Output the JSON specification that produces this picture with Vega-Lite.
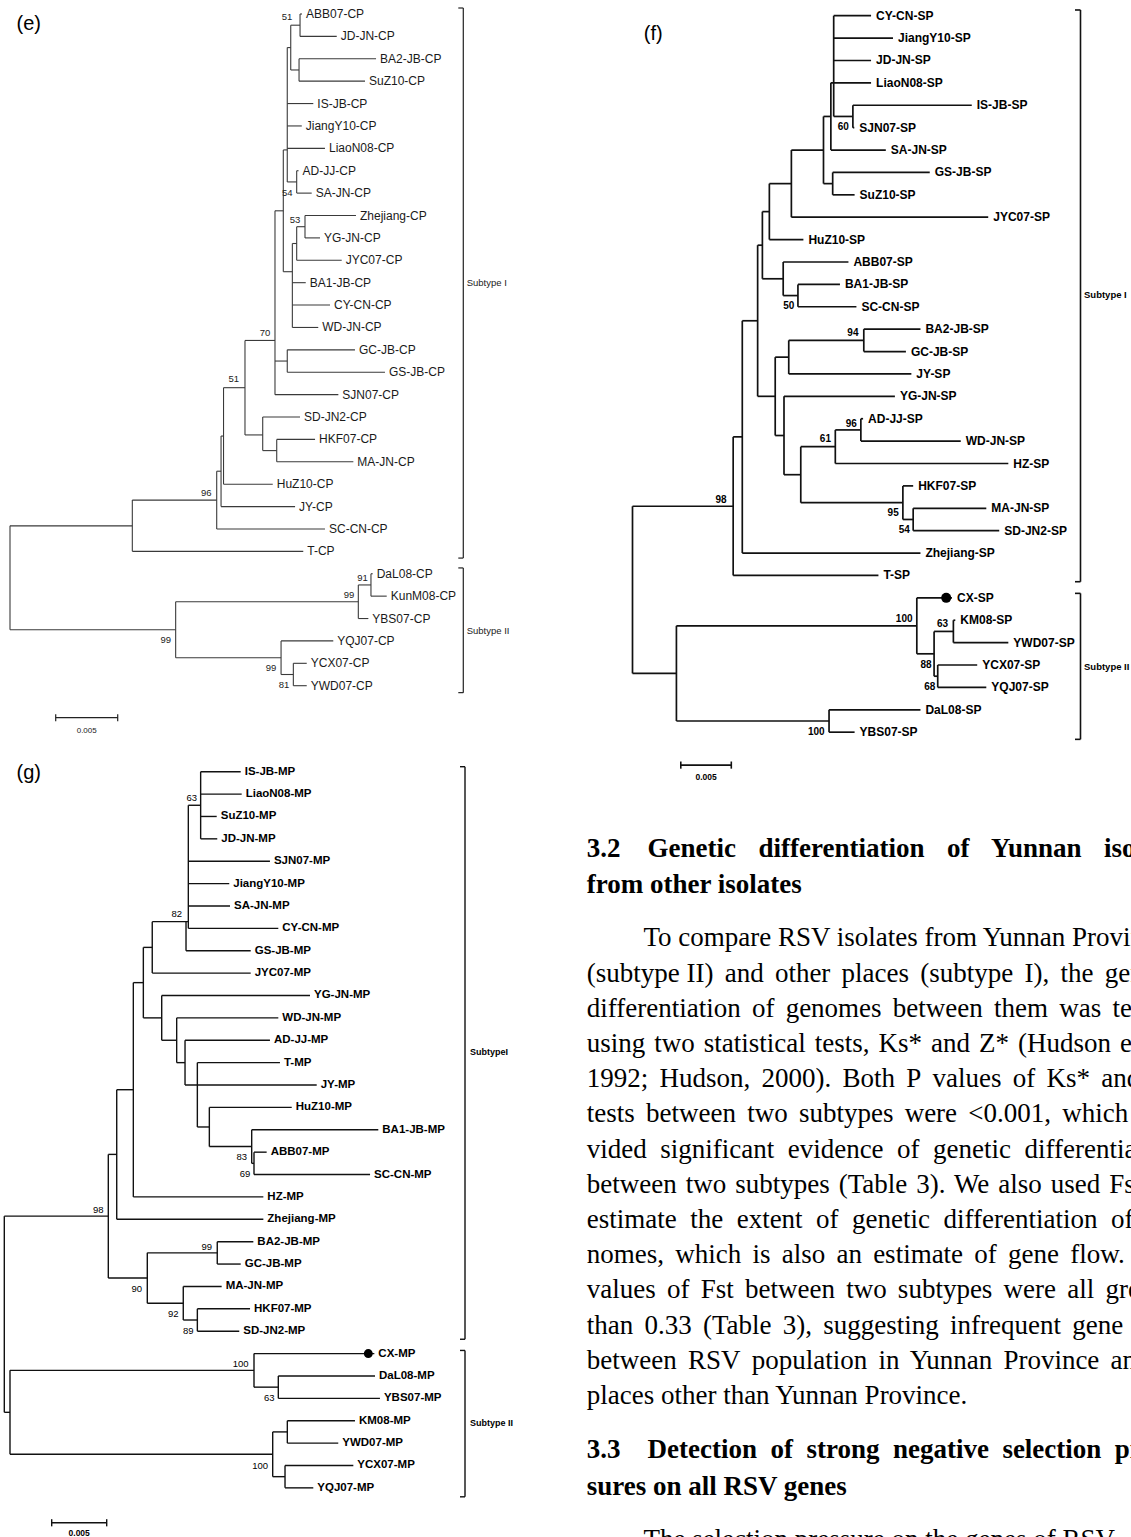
{
"$schema": "https://vega.github.io/schema/vega-lite/v6.json",
"padding": 0,
"background": "white",
"config": {"view": {"stroke": null}, "text": {"font": "Liberation Sans"}},
"datasets": {
"eSeg": [
{"x":0.02339,"xs":0.02339,"y":0,"ys":1},{"x":0.02331,"xs":0.02331,"y":2,"ys":3},
{"x":0.02264,"xs":0.02264,"y":0.5,"ys":2.5},{"x":0.02264,"xs":0.02339,"y":0.5,"ys":0.5},{"x":0.02264,"xs":0.02331,"y":2.5,"ys":2.5},
{"x":0.02236,"xs":0.02236,"y":1.5,"ys":7.5},{"x":0.02236,"xs":0.02264,"y":1.5,"ys":1.5},
{"x":0.02312,"xs":0.02312,"y":7,"ys":8},{"x":0.02236,"xs":0.02312,"y":7.5,"ys":7.5},
{"x":0.02204,"xs":0.02204,"y":6.07,"ys":11.51},{"x":0.02204,"xs":0.02236,"y":6.07,"ys":6.07},{"x":0.02204,"xs":0.02277,"y":11.51,"ys":11.51},
{"x":0.02379,"xs":0.02379,"y":9,"ys":10},{"x":0.02312,"xs":0.02379,"y":9.5,"ys":9.5},
{"x":0.02312,"xs":0.02312,"y":9.5,"ys":11},{"x":0.02277,"xs":0.02312,"y":10.25,"ys":10.25},
{"x":0.02277,"xs":0.02277,"y":10.25,"ys":14},
{"x":0.02137,"xs":0.02137,"y":8.79,"ys":17},{"x":0.02137,"xs":0.02204,"y":8.79,"ys":8.79},
{"x":0.02236,"xs":0.02236,"y":15,"ys":16},{"x":0.02137,"xs":0.02236,"y":15.5,"ys":15.5},
{"x":0.01895,"xs":0.01895,"y":14.58,"ys":18.8},{"x":0.01895,"xs":0.02137,"y":14.58,"ys":14.58},
{"x":0.02038,"xs":0.02038,"y":18,"ys":19.5},{"x":0.01895,"xs":0.02038,"y":18.8,"ys":18.8},
{"x":0.02151,"xs":0.02151,"y":19,"ys":20},{"x":0.02038,"xs":0.02151,"y":19.5,"ys":19.5},
{"x":0.01722,"xs":0.01722,"y":16.69,"ys":21},{"x":0.01722,"xs":0.01895,"y":16.69,"ys":16.69},
{"x":0.01702,"xs":0.01702,"y":18.85,"ys":22},{"x":0.01702,"xs":0.01722,"y":18.85,"ys":18.85},
{"x":0.01667,"xs":0.01667,"y":20.42,"ys":23},{"x":0.01667,"xs":0.01702,"y":20.42,"ys":20.42},
{"x":0.009864,"xs":0.009864,"y":21.71,"ys":24},{"x":0.009864,"xs":0.01667,"y":21.71,"ys":21.71},
{"x":0,"xs":0,"y":22.86,"ys":27.5},{"x":0,"xs":0.009864,"y":22.86,"ys":22.86},{"x":0,"xs":0.01336,"y":27.5,"ys":27.5},
{"x":0.01336,"xs":0.01336,"y":26.25,"ys":28.75},{"x":0.01336,"xs":0.02809,"y":26.25,"ys":26.25},{"x":0.01336,"xs":0.02186,"y":28.75,"ys":28.75},
{"x":0.02809,"xs":0.02809,"y":25.5,"ys":27},{"x":0.02809,"xs":0.02911,"y":25.5,"ys":25.5},
{"x":0.02911,"xs":0.02911,"y":25,"ys":26},
{"x":0.02186,"xs":0.02186,"y":28,"ys":29.5},{"x":0.02186,"xs":0.02285,"y":29.5,"ys":29.5},
{"x":0.02285,"xs":0.02285,"y":29,"ys":30}
],
"eTip": [
{"n":"ABB07-CP","y":0,"xs":0.02339,"x":0.02355},
{"n":"JD-JN-CP","y":1,"xs":0.02339,"x":0.02635},
{"n":"BA2-JB-CP","y":2,"xs":0.02331,"x":0.02952},
{"n":"SuZ10-CP","y":3,"xs":0.02331,"x":0.02863},
{"n":"IS-JB-CP","y":4,"xs":0.02236,"x":0.02446},
{"n":"JiangY10-CP","y":5,"xs":0.02236,"x":0.02353},
{"n":"LiaoN08-CP","y":6,"xs":0.02236,"x":0.0254},
{"n":"AD-JJ-CP","y":7,"xs":0.02312,"x":0.02327},
{"n":"SA-JN-CP","y":8,"xs":0.02312,"x":0.02433},
{"n":"Zhejiang-CP","y":9,"xs":0.02379,"x":0.0279},
{"n":"YG-JN-CP","y":10,"xs":0.02379,"x":0.025},
{"n":"JYC07-CP","y":11,"xs":0.02312,"x":0.02675},
{"n":"BA1-JB-CP","y":12,"xs":0.02277,"x":0.02385},
{"n":"CY-CN-CP","y":13,"xs":0.02277,"x":0.02581},
{"n":"WD-JN-CP","y":14,"xs":0.02277,"x":0.02486},
{"n":"GC-JB-CP","y":15,"xs":0.02236,"x":0.02782},
{"n":"GS-JB-CP","y":16,"xs":0.02236,"x":0.03024},
{"n":"SJN07-CP","y":17,"xs":0.02137,"x":0.02648},
{"n":"SD-JN2-CP","y":18,"xs":0.02038,"x":0.02339},
{"n":"HKF07-CP","y":19,"xs":0.02151,"x":0.0246},
{"n":"MA-JN-CP","y":20,"xs":0.02151,"x":0.02769},
{"n":"HuZ10-CP","y":21,"xs":0.01722,"x":0.02119},
{"n":"JY-CP","y":22,"xs":0.01702,"x":0.02299},
{"n":"SC-CN-CP","y":23,"xs":0.01667,"x":0.0254},
{"n":"T-CP","y":24,"xs":0.009864,"x":0.02365},
{"n":"DaL08-CP","y":25,"xs":0.02911,"x":0.02925},
{"n":"KunM08-CP","y":26,"xs":0.02911,"x":0.03038},
{"n":"YBS07-CP","y":27,"xs":0.02809,"x":0.0289},
{"n":"YQJ07-CP","y":28,"xs":0.02186,"x":0.02607},
{"n":"YCX07-CP","y":29,"xs":0.02285,"x":0.02393},
{"n":"YWD07-CP","y":30,"xs":0.02285,"x":0.02393}
],
"eBr": [
{"x":0.036556,"xs":0.036556,"y":-0.268,"ys":24.3},{"x":0.036153,"xs":0.036556,"y":-0.268,"ys":-0.268},{"x":0.036153,"xs":0.036556,"y":24.3,"ys":24.3},
{"x":0.036556,"xs":0.036556,"y":24.74,"ys":30.31},{"x":0.036153,"xs":0.036556,"y":24.74,"ys":24.74},{"x":0.036153,"xs":0.036556,"y":30.31,"ys":30.31},
{"x":0.003686,"xs":0.008686,"y":31.43,"ys":31.43},{"x":0.003686,"xs":0.003686,"y":31.27,"ys":31.59},{"x":0.008686,"xs":0.008686,"y":31.27,"ys":31.59}
],
"eBoot": [
{"v":"51","x":0.02234,"y":0.147},{"v":"54","x":0.02236,"y":7.98},{"v":"53","x":0.02299,"y":9.2},{"v":"70","x":0.02057,"y":14.23},{"v":"51","x":0.01804,"y":16.32},{"v":"96","x":0.01583,"y":21.38},{"v":"91","x":0.02843,"y":25.19},{"v":"99","x":0.02734,"y":25.95},{"v":"99","x":0.01256,"y":27.96},{"v":"99","x":0.02105,"y":29.21},{"v":"81","x":0.0221,"y":29.97}
],
"eNote": [
{"t":"Subtype I","k":"sub","x":0.036831,"y":12.01},{"t":"Subtype II","k":"sub","x":0.036831,"y":27.56},{"t":"0.005","k":"bar","x":0.006185,"y":32.02},{"t":"(e)","k":"panel","x":0.001516,"y":0.447}
],
"fSeg": [
{"x":0.01992,"xs":0.01992,"y":0,"ys":4.5},{"x":0.01992,"xs":0.02182,"y":4.5,"ys":4.5},{"x":0.02182,"xs":0.02182,"y":4,"ys":5},
{"x":0.01964,"xs":0.01964,"y":3,"ys":6},{"x":0.01891,"xs":0.01964,"y":4.5,"ys":4.5},
{"x":0.01982,"xs":0.01982,"y":7,"ys":8},{"x":0.01891,"xs":0.01982,"y":7.5,"ys":7.5},{"x":0.01891,"xs":0.01891,"y":4.5,"ys":7.5},
{"x":0.01573,"xs":0.01573,"y":6,"ys":9},{"x":0.01573,"xs":0.01891,"y":6,"ys":6},
{"x":0.01355,"xs":0.01355,"y":7.5,"ys":10},{"x":0.01355,"xs":0.01573,"y":7.5,"ys":7.5},
{"x":0.01492,"xs":0.01492,"y":11,"ys":12.5},{"x":0.01638,"xs":0.01638,"y":12,"ys":13},{"x":0.01492,"xs":0.01638,"y":12.5,"ys":12.5},
{"x":0.01286,"xs":0.01286,"y":8.75,"ys":11.75},{"x":0.01286,"xs":0.01355,"y":8.75,"ys":8.75},{"x":0.01286,"xs":0.01492,"y":11.75,"ys":11.75},
{"x":0.0229,"xs":0.0229,"y":14,"ys":15},{"x":0.01547,"xs":0.01547,"y":14.5,"ys":16},{"x":0.01547,"xs":0.0229,"y":14.5,"ys":14.5},
{"x":0.02261,"xs":0.02261,"y":18,"ys":19},{"x":0.02008,"xs":0.02008,"y":18.5,"ys":20},{"x":0.02008,"xs":0.02261,"y":18.5,"ys":18.5},
{"x":0.02779,"xs":0.02779,"y":22,"ys":23},{"x":0.02677,"xs":0.02677,"y":21,"ys":22.5},{"x":0.02677,"xs":0.02779,"y":22.5,"ys":22.5},
{"x":0.01666,"xs":0.01666,"y":19.25,"ys":21.75},{"x":0.01666,"xs":0.02008,"y":19.25,"ys":19.25},{"x":0.01666,"xs":0.02677,"y":21.75,"ys":21.75},
{"x":0.015,"xs":0.015,"y":17,"ys":20.5},{"x":0.015,"xs":0.01666,"y":20.5,"ys":20.5},
{"x":0.01413,"xs":0.01413,"y":15.25,"ys":18.75},{"x":0.01413,"xs":0.01547,"y":15.25,"ys":15.25},{"x":0.01413,"xs":0.015,"y":18.75,"ys":18.75},
{"x":0.01239,"xs":0.01239,"y":10.25,"ys":17},{"x":0.01239,"xs":0.01286,"y":10.25,"ys":10.25},{"x":0.01239,"xs":0.01413,"y":17,"ys":17},
{"x":0.01087,"xs":0.01087,"y":13.625,"ys":24},{"x":0.01087,"xs":0.01239,"y":13.625,"ys":13.625},
{"x":0.009968,"xs":0.009968,"y":18.81,"ys":25},{"x":0.009968,"xs":0.01087,"y":18.81,"ys":18.81},
{"x":0.03177,"xs":0.03177,"y":27,"ys":28},{"x":0.03022,"xs":0.03022,"y":29,"ys":30},
{"x":0.02986,"xs":0.02986,"y":27.5,"ys":29.5},{"x":0.02986,"xs":0.03177,"y":27.5,"ys":27.5},{"x":0.02986,"xs":0.03022,"y":29.5,"ys":29.5},
{"x":0.02815,"xs":0.02815,"y":26,"ys":28.5},{"x":0.02815,"xs":0.02986,"y":28.5,"ys":28.5},
{"x":0.01946,"xs":0.01946,"y":31,"ys":32},
{"x":0.004348,"xs":0.004348,"y":27.25,"ys":31.5},{"x":0.004348,"xs":0.02815,"y":27.25,"ys":27.25},{"x":0.004348,"xs":0.01946,"y":31.5,"ys":31.5},
{"x":0,"xs":0,"y":21.91,"ys":29.375},{"x":0,"xs":0.009968,"y":21.91,"ys":21.91},{"x":0,"xs":0.004348,"y":29.375,"ys":29.375}
],
"fTip": [
{"n":"CY-CN-SP","y":0,"xs":0.01992,"x":0.02362},
{"n":"JiangY10-SP","y":1,"xs":0.01992,"x":0.02579},
{"n":"JD-JN-SP","y":2,"xs":0.01992,"x":0.02362},
{"n":"LiaoN08-SP","y":3,"xs":0.01964,"x":0.02362},
{"n":"IS-JB-SP","y":4,"xs":0.02182,"x":0.03359},
{"n":"SJN07-SP","y":5,"xs":0.02182,"x":0.02196},
{"n":"SA-JN-SP","y":6,"xs":0.01964,"x":0.02508},
{"n":"GS-JB-SP","y":7,"xs":0.01982,"x":0.02943},
{"n":"SuZ10-SP","y":8,"xs":0.01982,"x":0.02199},
{"n":"JYC07-SP","y":9,"xs":0.01573,"x":0.03522},
{"n":"HuZ10-SP","y":10,"xs":0.01355,"x":0.01692},
{"n":"ABB07-SP","y":11,"xs":0.01492,"x":0.02138},
{"n":"BA1-JB-SP","y":12,"xs":0.01638,"x":0.02054},
{"n":"SC-CN-SP","y":13,"xs":0.01638,"x":0.02217},
{"n":"BA2-JB-SP","y":14,"xs":0.0229,"x":0.02851},
{"n":"GC-JB-SP","y":15,"xs":0.0229,"x":0.02707},
{"n":"JY-SP","y":16,"xs":0.01547,"x":0.02761},
{"n":"YG-JN-SP","y":17,"xs":0.015,"x":0.02598},
{"n":"AD-JJ-SP","y":18,"xs":0.02261,"x":0.02283},
{"n":"WD-JN-SP","y":19,"xs":0.02261,"x":0.0325},
{"n":"HZ-SP","y":20,"xs":0.02008,"x":0.03721},
{"n":"HKF07-SP","y":21,"xs":0.02677,"x":0.02779},
{"n":"MA-JN-SP","y":22,"xs":0.02779,"x":0.03503},
{"n":"SD-JN2-SP","y":23,"xs":0.02779,"x":0.03631},
{"n":"Zhejiang-SP","y":24,"xs":0.01087,"x":0.02851},
{"n":"T-SP","y":25,"xs":0.009968,"x":0.02435},
{"n":"CX-SP","y":26,"xs":0.02815,"x":0.03163},
{"n":"KM08-SP","y":27,"xs":0.03177,"x":0.03196},
{"n":"YWD07-SP","y":28,"xs":0.03177,"x":0.03721},
{"n":"YCX07-SP","y":29,"xs":0.03022,"x":0.03413},
{"n":"YQJ07-SP","y":30,"xs":0.03022,"x":0.03503},
{"n":"DaL08-SP","y":31,"xs":0.01946,"x":0.02851},
{"n":"YBS07-SP","y":32,"xs":0.01946,"x":0.02199}
],
"fBr": [
{"x":0.044356,"xs":0.044356,"y":-0.255,"ys":25.28},{"x":0.043812,"xs":0.044356,"y":-0.255,"ys":-0.255},{"x":0.043812,"xs":0.044356,"y":25.28,"ys":25.28},
{"x":0.044356,"xs":0.044356,"y":25.8,"ys":32.32},{"x":0.043812,"xs":0.044356,"y":25.8,"ys":25.8},{"x":0.043812,"xs":0.044356,"y":32.32,"ys":32.32},
{"x":0.004782,"xs":0.009782,"y":33.47,"ys":33.47},{"x":0.004782,"xs":0.004782,"y":33.31,"ys":33.63},{"x":0.009782,"xs":0.009782,"y":33.31,"ys":33.63}
],
"fBoot": [
{"v":"60","x":0.02087,"y":4.96},{"v":"50","x":0.01547,"y":12.97},{"v":"94","x":0.02182,"y":14.19},{"v":"96","x":0.02166,"y":18.23},{"v":"61","x":0.0191,"y":18.92},{"v":"95","x":0.02581,"y":22.2},{"v":"54","x":0.0269,"y":22.97},{"v":"98","x":0.008772,"y":21.63},{"v":"100","x":0.0269,"y":26.95},{"v":"63","x":0.0307,"y":27.17},{"v":"88","x":0.02907,"y":29.0},{"v":"68","x":0.02943,"y":29.97},{"v":"100","x":0.01819,"y":31.98}
],
"fNote": [
{"t":"Subtype I","k":"sub","x":0.044703,"y":12.47},{"t":"Subtype II","k":"sub","x":0.044703,"y":29.08},{"t":"0.005","k":"bar","x":0.007282,"y":33.98},{"t":"(f)","k":"panel","x":0.002059,"y":0.817}
],
"fDot": [{"x":0.03106,"y":26}],
"gSeg": [
{"x":0.01785,"xs":0.01785,"y":0,"ys":3},{"x":0.01673,"xs":0.01785,"y":1.5,"ys":1.5},
{"x":0.01673,"xs":0.01673,"y":1.5,"ys":7},{"x":0.01652,"xs":0.01652,"y":6.7,"ys":8},
{"x":0.01345,"xs":0.01345,"y":6.7,"ys":9},{"x":0.01345,"xs":0.01673,"y":6.7,"ys":6.7},
{"x":0.01264,"xs":0.01264,"y":7.85,"ys":11},{"x":0.01264,"xs":0.01345,"y":7.85,"ys":7.85},{"x":0.01264,"xs":0.01431,"y":11,"ys":11},
{"x":0.01431,"xs":0.01431,"y":10,"ys":12},{"x":0.01431,"xs":0.01567,"y":12,"ys":12},
{"x":0.01567,"xs":0.01567,"y":11,"ys":13},{"x":0.01567,"xs":0.01643,"y":13,"ys":13},
{"x":0.01643,"xs":0.01643,"y":12,"ys":14},
{"x":0.01755,"xs":0.01755,"y":13,"ys":15.875},{"x":0.01755,"xs":0.01864,"y":15.875,"ys":15.875},
{"x":0.01864,"xs":0.01864,"y":15,"ys":16.75},{"x":0.01864,"xs":0.02249,"y":16.75,"ys":16.75},
{"x":0.02249,"xs":0.02249,"y":16,"ys":17.5},{"x":0.02249,"xs":0.0227,"y":17.5,"ys":17.5},
{"x":0.0227,"xs":0.0227,"y":17,"ys":18},
{"x":0.01173,"xs":0.01173,"y":9.425,"ys":19},{"x":0.01173,"xs":0.01264,"y":9.425,"ys":9.425},
{"x":0.01022,"xs":0.01022,"y":14.21,"ys":20},{"x":0.01022,"xs":0.01173,"y":14.21,"ys":14.21},
{"x":0.01936,"xs":0.01936,"y":21,"ys":22},
{"x":0.01755,"xs":0.01755,"y":24,"ys":25},
{"x":0.01627,"xs":0.01627,"y":23,"ys":24.5},{"x":0.01627,"xs":0.01755,"y":24.5,"ys":24.5},
{"x":0.013,"xs":0.013,"y":21.5,"ys":23.75},{"x":0.013,"xs":0.01936,"y":21.5,"ys":21.5},{"x":0.013,"xs":0.01627,"y":23.75,"ys":23.75},
{"x":0.009455,"xs":0.009455,"y":17.1,"ys":22.625},{"x":0.009455,"xs":0.01022,"y":17.1,"ys":17.1},{"x":0.009455,"xs":0.013,"y":22.625,"ys":22.625},
{"x":0.02491,"xs":0.02491,"y":27,"ys":28},
{"x":0.0227,"xs":0.0227,"y":26,"ys":27.5},{"x":0.0227,"xs":0.02491,"y":27.5,"ys":27.5},
{"x":0.02573,"xs":0.02573,"y":29,"ys":30},{"x":0.02552,"xs":0.02552,"y":31,"ys":32},
{"x":0.0244,"xs":0.0244,"y":29.5,"ys":31.5},{"x":0.0244,"xs":0.02573,"y":29.5,"ys":29.5},{"x":0.0244,"xs":0.02552,"y":31.5,"ys":31.5},
{"x":0.000518,"xs":0.000518,"y":26.75,"ys":30.5},{"x":0.000518,"xs":0.0227,"y":26.75,"ys":26.75},{"x":0.000518,"xs":0.0244,"y":30.5,"ys":30.5},
{"x":0,"xs":0,"y":19.86,"ys":28.625},{"x":0,"xs":0.009455,"y":19.86,"ys":19.86},{"x":0,"xs":0.000518,"y":28.625,"ys":28.625}
],
"gTip": [
{"n":"IS-JB-MP","y":0,"xs":0.01785,"x":0.02149},
{"n":"LiaoN08-MP","y":1,"xs":0.01785,"x":0.02158},
{"n":"SuZ10-MP","y":2,"xs":0.01785,"x":0.01931},
{"n":"JD-JN-MP","y":3,"xs":0.01785,"x":0.01936},
{"n":"SJN07-MP","y":4,"xs":0.01673,"x":0.02415},
{"n":"JiangY10-MP","y":5,"xs":0.01673,"x":0.02045},
{"n":"SA-JN-MP","y":6,"xs":0.01673,"x":0.02052},
{"n":"CY-CN-MP","y":7,"xs":0.01673,"x":0.02491},
{"n":"GS-JB-MP","y":8,"xs":0.01652,"x":0.0224},
{"n":"JYC07-MP","y":9,"xs":0.01345,"x":0.0224},
{"n":"YG-JN-MP","y":10,"xs":0.01431,"x":0.02779},
{"n":"WD-JN-MP","y":11,"xs":0.01567,"x":0.02491},
{"n":"AD-JJ-MP","y":12,"xs":0.01643,"x":0.02415},
{"n":"T-MP","y":13,"xs":0.01755,"x":0.02506},
{"n":"JY-MP","y":14,"xs":0.01643,"x":0.0284},
{"n":"HuZ10-MP","y":15,"xs":0.01864,"x":0.02613},
{"n":"BA1-JB-MP","y":16,"xs":0.02249,"x":0.034},
{"n":"ABB07-MP","y":17,"xs":0.0227,"x":0.02385},
{"n":"SC-CN-MP","y":18,"xs":0.0227,"x":0.03325},
{"n":"HZ-MP","y":19,"xs":0.01173,"x":0.02355},
{"n":"Zhejiang-MP","y":20,"xs":0.01022,"x":0.02355},
{"n":"BA2-JB-MP","y":21,"xs":0.01936,"x":0.02264},
{"n":"GC-JB-MP","y":22,"xs":0.01936,"x":0.02149},
{"n":"MA-JN-MP","y":23,"xs":0.01627,"x":0.01976},
{"n":"HKF07-MP","y":24,"xs":0.01755,"x":0.02234},
{"n":"SD-JN2-MP","y":25,"xs":0.01755,"x":0.02136},
{"n":"CX-MP","y":26,"xs":0.0227,"x":0.03364},
{"n":"DaL08-MP","y":27,"xs":0.02491,"x":0.0337},
{"n":"YBS07-MP","y":28,"xs":0.02491,"x":0.03415},
{"n":"KM08-MP","y":29,"xs":0.02573,"x":0.03188},
{"n":"YWD07-MP","y":30,"xs":0.02573,"x":0.03036},
{"n":"YCX07-MP","y":31,"xs":0.02552,"x":0.03173},
{"n":"YQJ07-MP","y":32,"xs":0.02552,"x":0.02809}
],
"gBr": [
{"x":0.041882,"xs":0.041882,"y":-0.223,"ys":25.36},{"x":0.041427,"xs":0.041882,"y":-0.223,"ys":-0.223},{"x":0.041427,"xs":0.041882,"y":25.36,"ys":25.36},
{"x":0.041882,"xs":0.041882,"y":25.86,"ys":32.4},{"x":0.041427,"xs":0.041882,"y":25.86,"ys":25.86},{"x":0.041427,"xs":0.041882,"y":32.4,"ys":32.4},
{"x":0.004309,"xs":0.009309,"y":33.56,"ys":33.56},{"x":0.004309,"xs":0.004309,"y":33.4,"ys":33.72},{"x":0.009309,"xs":0.009309,"y":33.4,"ys":33.72}
],
"gBoot": [
{"v":"63","x":0.01704,"y":1.19},{"v":"82","x":0.01567,"y":6.36},{"v":"83","x":0.02158,"y":17.23},{"v":"69","x":0.02188,"y":17.98},{"v":"98","x":0.008545,"y":19.58},{"v":"99","x":0.0184,"y":21.22},{"v":"90","x":0.01204,"y":23.13},{"v":"92","x":0.01536,"y":24.24},{"v":"89","x":0.01673,"y":24.99},{"v":"100","x":0.02149,"y":26.48},{"v":"63","x":0.02409,"y":28.0},{"v":"100","x":0.02325,"y":31.02}
],
"gNote": [
{"t":"SubtypeI","k":"sub","x":0.042336,"y":12.51},{"t":"Subtype II","k":"sub","x":0.042336,"y":29.09},{"t":"0.005","k":"bar","x":0.006809,"y":34.0},{"t":"(g)","k":"panel","x":0.002227,"y":0.07}
],
"gDot": [{"x":0.033091,"y":26}],
"tHead": [
{"t":"3.2\u2003Genetic\u2002\u200a differentiation\u2002\u200a of\u2002\u200a Yunnan\u2002\u200a isolates","x":0,"y":-2.543},
{"t":"from other isolates","x":0,"y":-1.52},
{"t":"3.3\u2003Detection\u2005 of\u2005 strong\u2005 negative\u2005 selection\u2005 pres-","x":0,"y":14.52},
{"t":"sures on all RSV genes","x":0,"y":15.58}
],
"tBody": [
{"t":"To compare RSV isolates from Yunnan Province","x":2.1,"y":0},
{"t":"(subtype II)\u2006 and\u2006 other\u2006 places\u2006 (subtype\u2006 I),\u2006 the\u2006 genetic","x":0,"y":1},
{"t":"differentiation\u2006 of\u2006 genomes\u2006 between\u2006 them\u2006 was\u2006 tested","x":0,"y":2},
{"t":"using\u200a two\u200a statistical\u200a tests,\u200a Ks*\u200a and\u200a Z*\u200a (Hudson\u200a et al.,","x":0,"y":3},
{"t":"1992;\u2006 Hudson,\u2006 2000).\u2006 Both\u2006 P\u2006 values\u2006 of\u2006 Ks*\u2006 and Z*","x":0,"y":4},
{"t":"tests\u2006 between\u2006 two\u2006 subtypes\u2006 were\u2006 <0.001,\u2006 which\u2006 pro-","x":0,"y":5},
{"t":"vided\u2005 significant\u2005 evidence\u2005 of\u2005 genetic\u2005 differentiation","x":0,"y":6},
{"t":"between\u200a two\u200a subtypes\u200a (Table\u200a 3).\u200a We\u200a also\u200a used\u200a Fst to","x":0,"y":7},
{"t":"estimate\u2005 the\u2005 extent\u2005 of\u2005 genetic\u2005 differentiation\u2005 of ge-","x":0,"y":8},
{"t":"nomes,\u2006 which\u2006 is\u2006 also\u2006 an\u2006 estimate\u2006 of\u2006 gene\u2006 flow.\u2006 The","x":0,"y":9},
{"t":"values\u2006 of\u2006 Fst\u2006 between\u2006 two\u2006 subtypes\u2006 were\u2006 all\u2006 greater","x":0,"y":10},
{"t":"than\u2006 0.33\u2006 (Table\u2006 3),\u2006 suggesting\u2006 infrequent\u2006 gene\u2006 flow","x":0,"y":11},
{"t":"between\u2006 RSV\u2006 population\u2006 in\u2006 Yunnan\u2006 Province\u2006 and","x":0,"y":12},
{"t":"places other than Yunnan Province.","x":0,"y":13},
{"t":"The selection pressure on the genes of RSV","x":2.1,"y":17.1}
]
},
"columns": 2,
"spacing": 0,
"bounds": "flush",
"concat": [
{
"width": 480, "height": 800,
"encoding": {
"x": {"field": "x", "type": "quantitative", "axis": null, "scale": {"domain": [-0.00080645, 0.0379032], "nice": false, "zero": false}},
"y": {"field": "y", "type": "quantitative", "axis": null, "scale": {"domain": [-0.62528, 35.105], "nice": false, "zero": false, "reverse": true}}
},
"layer": [
{"data": {"name": "eSeg"}, "mark": {"type": "rule", "color": "#3a3a3a", "strokeWidth": 1.1}, "encoding": {"x2": {"field": "xs"}, "y2": {"field": "ys"}}},
{"data": {"name": "eTip"}, "mark": {"type": "rule", "color": "#3a3a3a", "strokeWidth": 1.1}, "encoding": {"x2": {"field": "xs"}}},
{"data": {"name": "eTip"}, "mark": {"type": "text", "align": "left", "baseline": "middle", "dx": 4, "fontSize": 12, "color": "#1a1a1a"}, "encoding": {"text": {"field": "n"}}},
{"data": {"name": "eBr"}, "mark": {"type": "rule", "color": "#222", "strokeWidth": 1.2}, "encoding": {"x2": {"field": "xs"}, "y2": {"field": "ys"}}},
{"data": {"name": "eBoot"}, "mark": {"type": "text", "align": "center", "baseline": "middle", "fontSize": 9.5, "color": "#222"}, "encoding": {"text": {"field": "v"}}},
{"data": {"name": "eNote"}, "transform": [{"filter": "datum.k=='sub'"}], "mark": {"type": "text", "align": "left", "baseline": "middle", "fontSize": 9.5, "color": "#222"}, "encoding": {"text": {"field": "t"}}},
{"data": {"name": "eNote"}, "transform": [{"filter": "datum.k=='bar'"}], "mark": {"type": "text", "align": "center", "baseline": "middle", "fontSize": 8, "color": "#222"}, "encoding": {"text": {"field": "t"}}},
{"data": {"name": "eNote"}, "transform": [{"filter": "datum.k=='panel'"}], "mark": {"type": "text", "align": "center", "baseline": "middle", "fontSize": 20, "color": "#000"}, "encoding": {"text": {"field": "t"}}}
]
},
{
"width": 651, "height": 800,
"encoding": {
"x": {"field": "x", "type": "quantitative", "axis": null, "scale": {"domain": [-0.015099, 0.0493564], "nice": false, "zero": false}},
"y": {"field": "y", "type": "quantitative", "axis": null, "scale": {"domain": [-0.70121, 35.029], "nice": false, "zero": false, "reverse": true}}
},
"layer": [
{"data": {"name": "fSeg"}, "mark": {"type": "rule", "color": "#111", "strokeWidth": 1.7}, "encoding": {"x2": {"field": "xs"}, "y2": {"field": "ys"}}},
{"data": {"name": "fTip"}, "mark": {"type": "rule", "color": "#111", "strokeWidth": 1.7}, "encoding": {"x2": {"field": "xs"}}},
{"data": {"name": "fTip"}, "mark": {"type": "text", "align": "left", "baseline": "middle", "dx": 5, "fontSize": 12, "fontWeight": "bold", "color": "#000"}, "encoding": {"text": {"field": "n"}}},
{"data": {"name": "fDot"}, "mark": {"type": "point", "shape": "circle", "filled": true, "size": 100, "color": "#000", "opacity": 1}},
{"data": {"name": "fBr"}, "mark": {"type": "rule", "color": "#111", "strokeWidth": 1.6}, "encoding": {"x2": {"field": "xs"}, "y2": {"field": "ys"}}},
{"data": {"name": "fBoot"}, "mark": {"type": "text", "align": "center", "baseline": "middle", "fontSize": 10, "fontWeight": "bold", "color": "#000"}, "encoding": {"text": {"field": "v"}}},
{"data": {"name": "fNote"}, "transform": [{"filter": "datum.k=='sub'"}], "mark": {"type": "text", "align": "left", "baseline": "middle", "fontSize": 9.5, "fontWeight": "bold", "color": "#000"}, "encoding": {"text": {"field": "t"}}},
{"data": {"name": "fNote"}, "transform": [{"filter": "datum.k=='bar'"}], "mark": {"type": "text", "align": "center", "baseline": "middle", "fontSize": 8.5, "fontWeight": "bold", "color": "#000"}, "encoding": {"text": {"field": "t"}}},
{"data": {"name": "fNote"}, "transform": [{"filter": "datum.k=='panel'"}], "mark": {"type": "text", "align": "center", "baseline": "middle", "fontSize": 20, "color": "#000"}, "encoding": {"text": {"field": "t"}}}
]
},
{
"width": 480, "height": 737,
"encoding": {
"x": {"field": "x", "type": "quantitative", "axis": null, "scale": {"domain": [-0.00039091, 0.0432455], "nice": false, "zero": false}},
"y": {"field": "y", "type": "quantitative", "axis": null, "scale": {"domain": [1.26452, 34.1958], "nice": false, "zero": false, "reverse": true}}
},
"layer": [
{"data": {"name": "gSeg"}, "mark": {"type": "rule", "color": "#111", "strokeWidth": 1.4}, "encoding": {"x2": {"field": "xs"}, "y2": {"field": "ys"}}},
{"data": {"name": "gTip"}, "mark": {"type": "rule", "color": "#111", "strokeWidth": 1.4}, "encoding": {"x2": {"field": "xs"}}},
{"data": {"name": "gTip"}, "mark": {"type": "text", "align": "left", "baseline": "middle", "dx": 4, "fontSize": 11.5, "fontWeight": "bold", "color": "#000"}, "encoding": {"text": {"field": "n"}}},
{"data": {"name": "gDot"}, "mark": {"type": "point", "shape": "circle", "filled": true, "size": 80, "color": "#000", "opacity": 1}},
{"data": {"name": "gBr"}, "mark": {"type": "rule", "color": "#111", "strokeWidth": 1.4}, "encoding": {"x2": {"field": "xs"}, "y2": {"field": "ys"}}},
{"data": {"name": "gBoot"}, "mark": {"type": "text", "align": "center", "baseline": "middle", "fontSize": 9.5, "color": "#000"}, "encoding": {"text": {"field": "v"}}},
{"data": {"name": "gNote"}, "transform": [{"filter": "datum.k=='sub'"}], "mark": {"type": "text", "align": "left", "baseline": "middle", "fontSize": 9, "fontWeight": "bold", "color": "#000"}, "encoding": {"text": {"field": "t"}}},
{"data": {"name": "gNote"}, "transform": [{"filter": "datum.k=='bar'"}], "mark": {"type": "text", "align": "center", "baseline": "middle", "fontSize": 8.5, "fontWeight": "bold", "color": "#000"}, "encoding": {"text": {"field": "t"}}},
{"data": {"name": "gNote"}, "transform": [{"filter": "datum.k=='panel'"}], "mark": {"type": "text", "align": "center", "baseline": "middle", "fontSize": 20, "color": "#000"}, "encoding": {"text": {"field": "t"}}}
]
},
{
"width": 651, "height": 737,
"encoding": {
"x": {"field": "x", "type": "quantitative", "axis": null, "scale": {"domain": [-3.9519, 20.1593], "nice": false, "zero": false}},
"y": {"field": "y", "type": "quantitative", "axis": null, "scale": {"domain": [-4.1619, 16.7756], "nice": false, "zero": false, "reverse": true}}
},
"layer": [
{"data": {"name": "tHead"}, "mark": {"type": "text", "align": "left", "baseline": "alphabetic", "font": "Liberation Serif", "fontSize": 27, "fontWeight": "bold", "color": "#000", "clip": true}, "encoding": {"text": {"field": "t"}}},
{"data": {"name": "tBody"}, "mark": {"type": "text", "align": "left", "baseline": "alphabetic", "font": "Liberation Serif", "fontSize": 27, "color": "#000", "clip": true}, "encoding": {"text": {"field": "t"}}}
]
}
]
}
